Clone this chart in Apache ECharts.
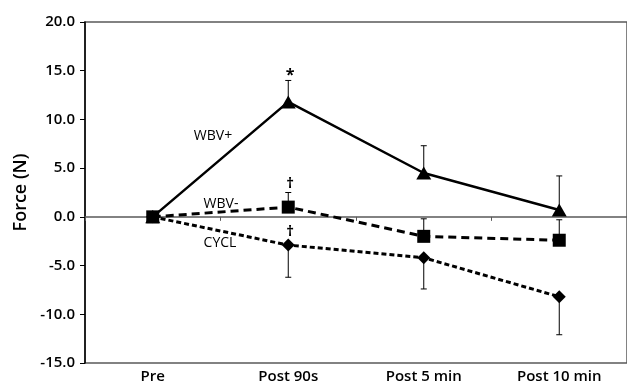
<!DOCTYPE html>
<html>
<head>
<meta charset="utf-8">
<script src="https://cdn.jsdelivr.net/npm/echarts@6/dist/echarts.min.js"></script>
<style>
  html, body { margin: 0; padding: 0; background: #fff; }
  #chart { width: 627px; height: 386px; }
</style>
</head>
<body>
<div id="chart"></div>
<script>
// time points
const categories = ['Pre', 'Post 90s', 'Post 5 min', 'Post 10 min'];
// mean force change (N)
const wbvPlus = [0, 11.8, 4.5, 0.7];
const wbvMinus = [0, 1.0, -2.0, -2.4];
const cycl = [0, -2.9, -4.2, -8.2];
// one-sided error bars (end value of each bar, null = none)
const wbvPlusErr = [null, 14.0, 7.3, 4.2];
const wbvMinusErr = [null, 2.5, -0.2, -0.3];
const cyclErr = [null, -6.2, -7.4, -12.1];

const FONT = '"Open Sans", "DejaVu Sans", sans-serif';

function errData(means, ends) {
  const out = [];
  means.forEach((m, i) => {
    if (ends[i] !== null) out.push([i, m, ends[i]]);
  });
  return out;
}

function renderErr(params, api) {
  const x = api.value(0);
  const a = api.coord([x, api.value(1)]);
  const b = api.coord([x, api.value(2)]);
  const style = { stroke: '#000', lineWidth: 1 };
  return {
    type: 'group',
    children: [
      { type: 'line', shape: { x1: a[0], y1: a[1], x2: b[0], y2: b[1] }, style: style },
      { type: 'line', shape: { x1: b[0] - 3, y1: b[1], x2: b[0] + 3, y2: b[1] }, style: style }
    ]
  };
}

function errSeries(means, ends) {
  return {
    type: 'custom', renderItem: renderErr, z: 1, silent: true,
    data: errData(means, ends)
  };
}

const chart = echarts.init(document.getElementById('chart'));
chart.setOption({
  animation: false,
  backgroundColor: '#fff',
  textStyle: { fontFamily: FONT },
  grid: {
    left: 85, right: -4, top: 22, bottom: 23,
    show: true, borderColor: '#595959', borderWidth: 1.5
  },
  xAxis: [{
    type: 'category', data: categories, boundaryGap: true,
    axisLine: { onZero: true, lineStyle: { color: '#595959', width: 1.5 } },
    axisTick: { show: true, length: 4, lineStyle: { color: '#595959' } },
    axisLabel: { show: false },
    splitLine: { show: false }
  }, {
    type: 'category', data: categories, boundaryGap: true, position: 'bottom',
    axisLine: { show: false, onZero: false },
    axisTick: { show: false },
    axisLabel: { color: '#000', fontSize: 15, fontWeight: 600, margin: 6, fontFamily: FONT },
    splitLine: { show: false }
  }],
  yAxis: {
    type: 'value', min: -15, max: 20, interval: 5,
    name: 'Force (N)', nameLocation: 'middle', nameGap: 54, nameRotate: 90,
    nameTextStyle: { color: '#000', fontSize: 18, fontWeight: 600, fontFamily: FONT },
    axisLine: { show: true, lineStyle: { color: '#000', width: 1.5 } },
    axisTick: { show: true, length: 5, lineStyle: { color: '#000' } },
    axisLabel: { color: '#000', fontSize: 15, fontWeight: 600, margin: 10, fontFamily: FONT,
      formatter: v => v.toFixed(1) },
    splitLine: { show: false }
  },
  series: [
    errSeries(wbvPlus, wbvPlusErr),
    errSeries(wbvMinus, wbvMinusErr),
    errSeries(cycl, cyclErr),
    {
      name: 'CYCL', type: 'line', data: cycl, z: 3,
      symbol: 'diamond', symbolSize: 13,
      itemStyle: { color: '#000' },
      lineStyle: { color: '#000', width: 3, type: [5, 3] }
    },
    {
      name: 'WBV+', type: 'line', data: wbvPlus, z: 4,
      symbol: 'triangle', symbolSize: [15, 13],
      itemStyle: { color: '#000' },
      lineStyle: { color: '#000', width: 2.5, type: 'solid' }
    },
    {
      name: 'WBV-', type: 'line', data: wbvMinus, z: 5,
      symbol: 'rect', symbolSize: 13,
      itemStyle: { color: '#000' },
      lineStyle: { color: '#000', width: 3, type: [8, 5] }
    }
  ],
  graphic: [
    { type: 'text', x: 213, y: 136, style: { text: 'WBV+', font: '500 14px ' + FONT, fill: '#000', align: 'center', verticalAlign: 'middle' } },
    { type: 'text', x: 221, y: 204, style: { text: 'WBV-', font: '500 14px ' + FONT, fill: '#000', align: 'center', verticalAlign: 'middle' } },
    { type: 'text', x: 220, y: 243, style: { text: 'CYCL', font: '500 14px ' + FONT, fill: '#000', align: 'center', verticalAlign: 'middle' } },
    { type: 'text', x: 290, y: 75, style: { text: '*', font: 'bold 16px ' + FONT, fill: '#000', align: 'center', verticalAlign: 'middle' } },
    { type: 'text', x: 290, y: 184, style: { text: '†', font: 'bold 15px ' + FONT, fill: '#000', align: 'center', verticalAlign: 'middle' } },
    { type: 'text', x: 290, y: 232, style: { text: '†', font: 'bold 15px ' + FONT, fill: '#000', align: 'center', verticalAlign: 'middle' } }
  ]
});
</script>
</body>
</html>
